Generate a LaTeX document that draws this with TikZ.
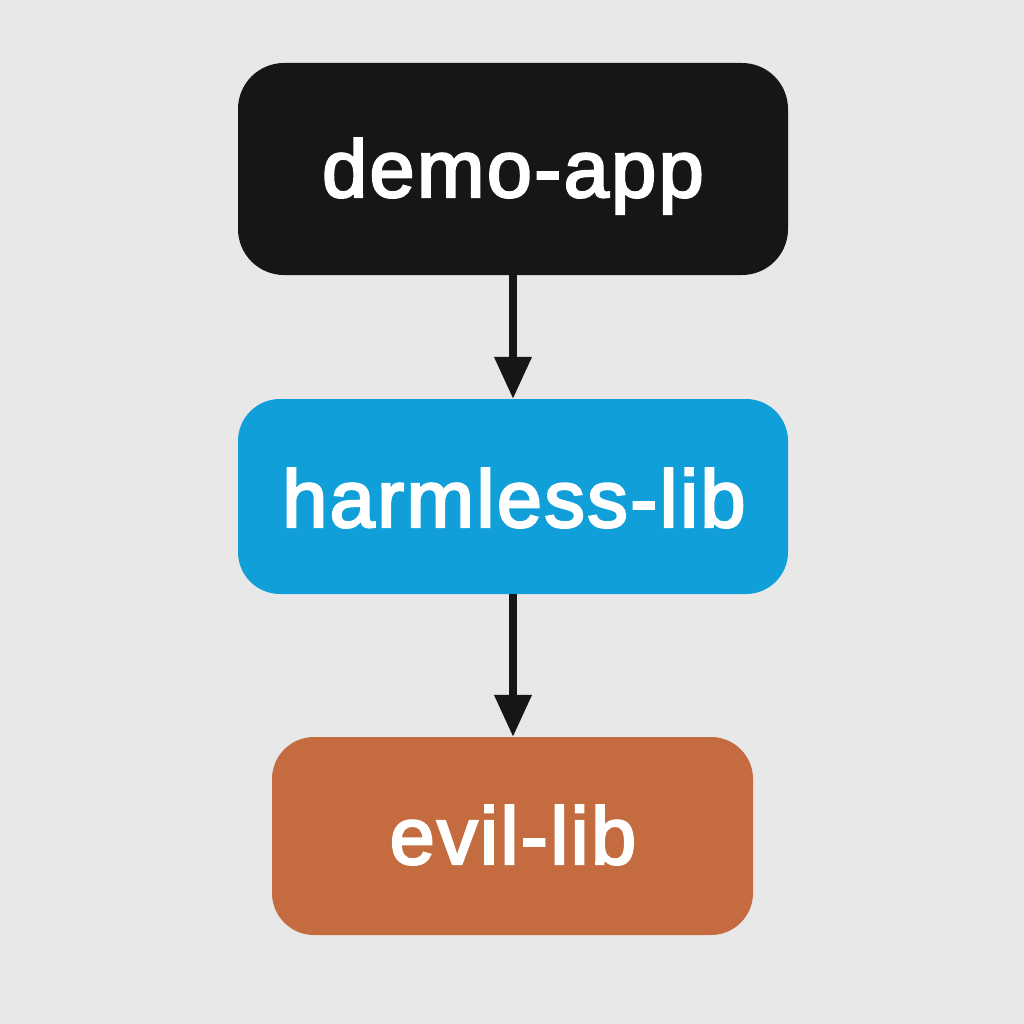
\documentclass[tikz,border=0pt]{standalone}
\usepackage{fontspec}
\setmainfont{Liberation Sans}
\newfontfamily\lblfont[FakeBold=3,LetterSpace=3]{Liberation Sans}
\usetikzlibrary{arrows.meta}
\definecolor{bgc}{HTML}{E8E8E8}
\definecolor{boxblack}{HTML}{161616}
\definecolor{boxblue}{HTML}{119FD9}
\definecolor{boxorange}{HTML}{C46C3F}
\tikzset{
  box/.style={draw=none, inner sep=0pt, rounded corners=#1},
  lbl/.style={anchor=base, inner sep=0pt, text=white, font=\lblfont\fontsize{81}{95}\selectfont},
  conn/.style={line width=7.5pt, draw=boxblack, -{Triangle[width=36pt,length=42pt]}, shorten >=0pt}
}
\begin{document}
\begin{tikzpicture}[x=1pt,y=-1pt]
\fill[bgc] (0,0) rectangle (1024,1024);
\useasboundingbox (0,0) rectangle (1024,1024);
\node[box=46pt, fill=boxblack, minimum width=550pt, minimum height=212pt] (app) at (513,169) {};
\node[box=42pt, fill=boxblue, minimum width=550pt, minimum height=195pt] (harm) at (513,496.5) {};
\node[box=42pt, fill=boxorange, minimum width=481pt, minimum height=198pt] (evil) at (512.5,836) {};
\node[lbl] (tapp) at (513,197) {demo-app};
\node[lbl] (tharm) at (514,527) {harmless-lib};
\node[lbl] (tevil) at (513,864) {evil-lib};
\draw[conn] (app.south -| 513,0) -- (harm.north -| 513,0);
\draw[conn] (harm.south -| 513,0) -- (evil.north -| 513,0);
\end{tikzpicture}
\end{document}
